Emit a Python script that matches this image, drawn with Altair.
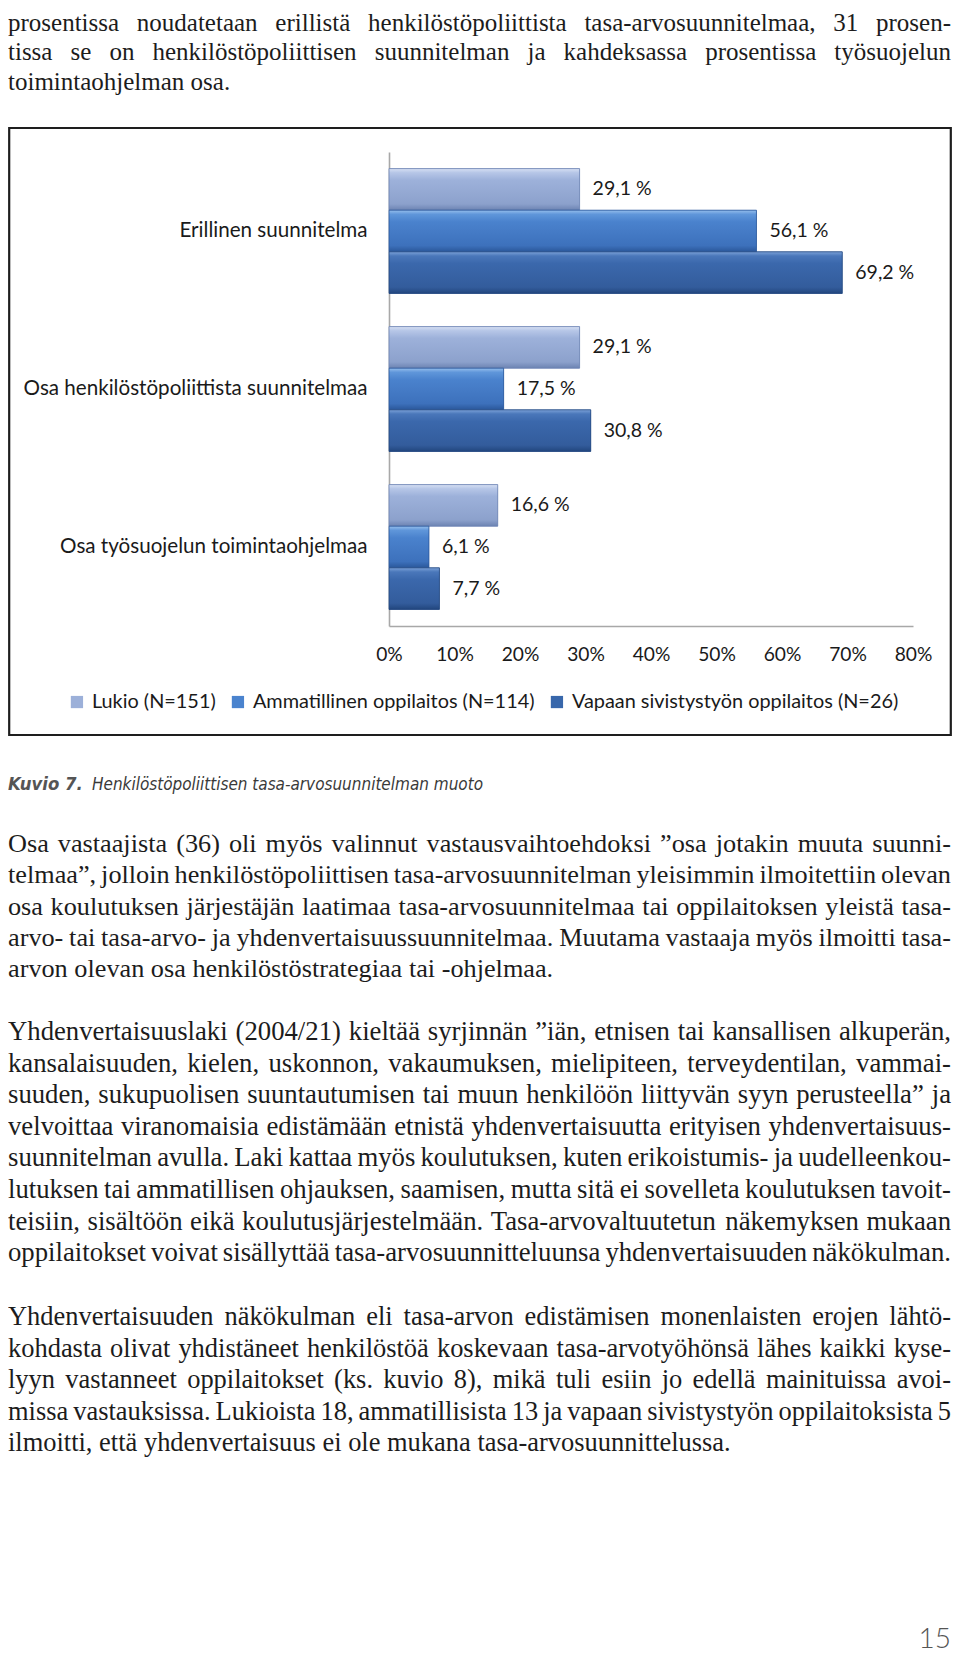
import glob
import struct
import pandas as pd
import altair as alt

# ---------------- data ----------------
categories = ["Erillinen suunnitelma",
              "Osa henkilöstöpoliittista suunnitelmaa",
              "Osa työsuojelun toimintaohjelmaa"]
series = ["Lukio (N=151)",
          "Ammatillinen oppilaitos (N=114)",
          "Vapaan sivistystyön oppilaitos (N=26)"]
lukio_values = [29.1, 29.1, 16.6]
ammatillinen_values = [56.1, 17.5, 6.1]
vapaan_values = [69.2, 30.8, 7.7]
x_tick_values = [0, 10, 20, 30, 40, 50, 60, 70, 80]

top_lines = [
    "prosentissa noudatetaan erillistä henkilöstöpoliittista tasa-arvosuunnitelmaa, 31 prosen-",
    "tissa se on henkilöstöpoliittisen suunnitelman ja kahdeksassa prosentissa työsuojelun",
    "toimintaohjelman osa.",
]
para1_lines = [
    "Osa vastaajista (36) oli myös valinnut vastausvaihtoehdoksi ”osa jotakin muuta suunni-",
    "telmaa”, jolloin henkilöstöpoliittisen tasa-arvosuunnitelman yleisimmin ilmoitettiin olevan",
    "osa koulutuksen järjestäjän laatimaa tasa-arvosuunnitelmaa tai oppilaitoksen yleistä tasa-",
    "arvo- tai tasa-arvo- ja yhdenvertaisuussuunnitelmaa. Muutama vastaaja myös ilmoitti tasa-",
    "arvon olevan osa henkilöstöstrategiaa tai -ohjelmaa.",
]
para2_lines = [
    "Yhdenvertaisuuslaki (2004/21) kieltää syrjinnän ”iän, etnisen tai kansallisen alkuperän,",
    "kansalaisuuden, kielen, uskonnon, vakaumuksen, mielipiteen, terveydentilan, vammai-",
    "suuden, sukupuolisen suuntautumisen tai muun henkilöön liittyvän syyn perusteella” ja",
    "velvoittaa viranomaisia edistämään etnistä yhdenvertaisuutta erityisen yhdenvertaisuus-",
    "suunnitelman avulla. Laki kattaa myös koulutuksen, kuten erikoistumis- ja uudelleenkou-",
    "lutuksen tai ammatillisen ohjauksen, saamisen, mutta sitä ei sovelleta koulutuksen tavoit-",
    "teisiin, sisältöön eikä koulutusjärjestelmään. Tasa-arvovaltuutetun näkemyksen mukaan",
    "oppilaitokset voivat sisällyttää tasa-arvosuunnitteluunsa yhdenvertaisuuden näkökulman.",
]
para3_lines = [
    "Yhdenvertaisuuden näkökulman eli tasa-arvon edistämisen monenlaisten erojen lähtö-",
    "kohdasta olivat yhdistäneet henkilöstöä koskevaan tasa-arvotyöhönsä lähes kaikki kyse-",
    "lyyn vastanneet oppilaitokset (ks. kuvio 8), mikä tuli esiin jo edellä mainituissa avoi-",
    "missa vastauksissa. Lukioista 18, ammatillisista 13 ja vapaan sivistystyön oppilaitoksista 5",
    "ilmoitti, että yhdenvertaisuus ei ole mukana tasa-arvosuunnittelussa.",
]
caption_bold = "Kuvio 7."
caption_text = "Henkilöstöpoliittisen tasa-arvosuunnitelman muoto"
page_number = "15"


# ---------------- font metrics (for justified text) ----------------
def make_measurer(path):
    data = open(path, "rb").read()
    base = 0
    if data[:4] == b"ttcf":
        base = struct.unpack(">I", data[12:16])[0]
    num_tables = struct.unpack(">H", data[base + 4:base + 6])[0]
    tables = {}
    for i in range(num_tables):
        off = base + 12 + 16 * i
        tag = data[off:off + 4].decode("latin1")
        toff, tlen = struct.unpack(">II", data[off + 8:off + 16])
        tables[tag] = toff
    head = tables["head"]
    upem = struct.unpack(">H", data[head + 18:head + 20])[0]
    hhea = tables["hhea"]
    num_h = struct.unpack(">H", data[hhea + 34:hhea + 36])[0]
    hmtx = tables["hmtx"]
    adv = [struct.unpack(">H", data[hmtx + 4 * i:hmtx + 4 * i + 2])[0] for i in range(num_h)]
    cmap = tables["cmap"]
    nsub = struct.unpack(">H", data[cmap + 2:cmap + 4])[0]
    sub = None
    for i in range(nsub):
        pid, eid, soff = struct.unpack(">HHI", data[cmap + 4 + 8 * i:cmap + 12 + 8 * i])
        fmt = struct.unpack(">H", data[cmap + soff:cmap + soff + 2])[0]
        if fmt == 4 and (pid == 3 and eid == 1 or pid == 0):
            sub = cmap + soff
            break
    if sub is None:
        raise ValueError("no cmap")
    segx2 = struct.unpack(">H", data[sub + 6:sub + 8])[0]
    seg = segx2 // 2
    ends = struct.unpack(">%dH" % seg, data[sub + 14:sub + 14 + segx2])
    starts = struct.unpack(">%dH" % seg, data[sub + 16 + segx2:sub + 16 + 2 * segx2])
    deltas = struct.unpack(">%dh" % seg, data[sub + 16 + 2 * segx2:sub + 16 + 3 * segx2])
    ro_pos = sub + 16 + 3 * segx2
    roffs = struct.unpack(">%dH" % seg, data[ro_pos:ro_pos + segx2])
    cache = {}

    def glyph_adv(ch):
        if ch in cache:
            return cache[ch]
        c = ord(ch)
        g = 0
        for i in range(seg):
            if ends[i] >= c:
                if starts[i] <= c:
                    if roffs[i] == 0:
                        g = (c + deltas[i]) & 0xFFFF
                    else:
                        addr = ro_pos + 2 * i + roffs[i] + 2 * (c - starts[i])
                        g = struct.unpack(">H", data[addr:addr + 2])[0]
                        if g:
                            g = (g + deltas[i]) & 0xFFFF
                break
        a = adv[g] if g < num_h else adv[-1]
        cache[ch] = a / upem
        return cache[ch]

    def width(text, size):
        return sum(glyph_adv(ch) for ch in text) * size

    return width


def find_measurer(names):
    for n in names:
        paths = []
        for root in ["/usr/share/fonts", "/usr/local/share/fonts", "/root/.fonts"]:
            paths += sorted(glob.glob(root + "/**/" + n, recursive=True))
        for p in paths:
            try:
                return make_measurer(p)
            except Exception:
                pass
    return None


serif_w = find_measurer(["LiberationSerif-Regular.ttf"])
lato_w = find_measurer(["Lato-Regular.ttf"])

cap_family, cap_it_w = "Roboto", None
for fam, f_list in [("Liberation Sans Narrow", ["LiberationSansNarrow-Italic.ttf"]),
                    ("DejaVu Sans Condensed", ["DejaVuSansCondensed-Oblique.ttf"]),
                    ("Roboto", ["Roboto-Italic.ttf", "Roboto-Italic*.ttf", "Roboto*Italic*.ttf"])]:
    m1 = find_measurer(f_list)
    if m1 is not None:
        cap_family, cap_it_w = fam, m1
        break


def fit(measure, text, target, default, lo=12, hi=26):
    if measure is None:
        return default
    w1 = measure(text, 1.0)
    if w1 <= 0:
        return default
    return max(lo, min(hi, target / w1))


# ---------------- layout (chart coords = page coords - 8) ----------------
OX = 8
W, H = 944, 1648
X0, X80 = 389 - OX, 913 - OX
YT, YB = 152 - OX, 626 - OX

cat_size = fit(lato_w, categories[1], 345, 18.5)
leg_size = fit(lato_w, series[2], 337, 18.5) * 0.975
lab_size = fit(lato_w, "29,1 %", 59, 18.5)
tick_size = fit(lato_w, "80%", 37.7, 18.5)

# ---------------- prose ----------------
TEXT_L, TEXT_R = 0, W - 1


def para_rows(lines, first_base, step, cap):
    n = len(lines)
    bases = [first_base + i * step - OX for i in range(n)]
    rows = []
    if serif_w is None:
        for ln, y in zip(lines, bases):
            rows.append({"x": TEXT_L, "y": y, "word": ln, "fs": 23.0})
        return rows
    sp1 = serif_w(" ", 1.0)
    size = cap
    for ln in lines:
        words = ln.split(" ")
        nat = sum(serif_w(w, 1.0) for w in words) + 0.75 * sp1 * (len(words) - 1)
        size = min(size, (TEXT_R - TEXT_L) / nat)
    for idx, (ln, y) in enumerate(zip(lines, bases)):
        words = ln.split(" ")
        ww = [serif_w(w, size) for w in words]
        if len(words) == 1:
            gap = 0
        else:
            gap = (TEXT_R - TEXT_L - sum(ww)) / (len(words) - 1)
            if idx == n - 1:
                gap = min(gap, serif_w(" ", size))
        x = TEXT_L
        for w, wd in zip(words, ww):
            rows.append({"x": x, "y": y, "word": w, "fs": size})
            x += wd + gap
    return rows


prose = []
prose += para_rows(top_lines, 30.5, 29.8, 25)
prose += para_rows(para1_lines, 852, 31.3, 27)
prose += para_rows(para2_lines, 1040, 31.6, 27)
prose += para_rows(para3_lines, 1325, 31.5, 27)
prose_df = pd.DataFrame(prose)

cap_size = fit(cap_it_w, caption_text, 391, 20, lo=14, hi=26)
cap_df_b = pd.DataFrame([{"x": 0, "y": 790 - OX, "t": caption_bold}])
cap_df_i = pd.DataFrame([{"x": 92 - OX, "y": 790 - OX, "t": caption_text}])
pn_df = pd.DataFrame([{"x": W - 1, "y": H - 8, "t": page_number}])

# ---------------- bars ----------------
rows = []
for i, c in enumerate(categories):
    for s, vals in zip(series, [lukio_values, ammatillinen_values, vapaan_values]):
        v = vals[i]
        rows.append({"cat": c, "series": s, "value": v,
                     "label": ("%.1f" % v).replace(".", ",") + " %"})
bars_df = pd.DataFrame(rows)

flat_colors = ["#9CB0D9", "#4A83CE", "#3867AB"]
gradients = [
    [("#D6E0F3", 0.0), ("#B6C6E7", 0.1), ("#9DB1DA", 0.28), ("#8CA1CC", 0.85), ("#6C83B2", 1.0)],
    [("#95BEEC", 0.0), ("#5F96DA", 0.1), ("#4A82CD", 0.28), ("#3D71BC", 0.85), ("#2A579A", 1.0)],
    [("#7CA2D8", 0.0), ("#4A77BA", 0.1), ("#3B68AC", 0.28), ("#335C9C", 0.85), ("#22467E", 1.0)],
]
edge_colors = ["#6C83B2", "#2A579A", "#22467E"]

LABEL_FONT = "Lato"

x_enc = alt.X("value:Q",
              scale=alt.Scale(domain=[0, 80], range=[X0, X80], nice=False, zero=True),
              axis=alt.Axis(title=None, orient="bottom", offset=YB - H, values=x_tick_values,
                            labelExpr="datum.value + '%'", ticks=False, grid=False,
                            labelFlush=False, labelOverlap=False,
                            domainColor="#a8a8a8", domainWidth=1.6,
                            labelFont=LABEL_FONT, labelFontSize=tick_size, labelColor="#1a1a1a",
                            labelPadding=19))
y_enc = alt.Y("cat:N", sort=categories,
              scale=alt.Scale(domain=categories, range=[YT, YB], paddingInner=0.21, paddingOuter=0.105),
              axis=alt.Axis(title=None, orient="left", offset=-X0, ticks=False, grid=False,
                            domainColor="#a8a8a8", domainWidth=1.6,
                            labelFont=LABEL_FONT, labelFontSize=cat_size, labelColor="#1a1a1a",
                            labelPadding=22, labelLimit=600))
yo_enc = alt.YOffset("series:N", sort=series,
                     scale=alt.Scale(domain=series, paddingInner=0, paddingOuter=0))

base = alt.Chart(bars_df)

bars = base.mark_bar().encode(
    x=x_enc, y=y_enc, yOffset=yo_enc,
    color=alt.Color("series:N", sort=series,
                    scale=alt.Scale(domain=series, range=flat_colors),
                    legend=alt.Legend(title=None, orient="none", direction="horizontal",
                                      legendX=59, legendY=684, padding=0,
                                      symbolType="square", symbolSize=150, symbolStrokeWidth=0,
                                      labelFont=LABEL_FONT, labelFontSize=leg_size,
                                      labelColor="#1a1a1a", labelOffset=5, columnPadding=12,
                                      labelLimit=600)),
)

grad_layers = []
for s, g, ec in zip(series, gradients, edge_colors):
    grad = {"gradient": "linear", "x1": 0, "y1": 0, "x2": 0, "y2": 1,
            "stops": [{"offset": o, "color": c} for c, o in g]}
    grad_layers.append(
        base.transform_filter(alt.datum.series == s)
        .mark_bar(color=grad, stroke=ec, strokeWidth=0.8)
        .encode(x=x_enc, y=y_enc, yOffset=yo_enc)
    )

labels = base.mark_text(align="left", baseline="middle", dx=13, font=LABEL_FONT,
                        fontSize=lab_size, color="#1a1a1a").encode(
    x=x_enc, y=y_enc, yOffset=yo_enc, text="label:N")

box = alt.Chart(pd.DataFrame({"a": [0]})).mark_rect(
    fillOpacity=0, stroke="#1e1e1e", strokeWidth=2.2).encode(
    x=alt.value(1.2), x2=alt.value(W - 1.2), y=alt.value(128 - OX), y2=alt.value(735 - OX))

prose_layer = alt.Chart(prose_df).mark_text(
    align="left", baseline="alphabetic", font="Liberation Serif", color="#1c1c1c").encode(
    x=alt.X("x:Q", scale=None, axis=None),
    y=alt.Y("y:Q", scale=None, axis=None),
    size=alt.Size("fs:Q", scale=None, legend=None),
    text="word:N")

cap_b = alt.Chart(cap_df_b).mark_text(
    align="left", baseline="alphabetic", font=cap_family, fontStyle="italic", fontWeight="bold",
    fontSize=cap_size * 1.08, color="#555555").encode(
    x=alt.X("x:Q", scale=None, axis=None), y=alt.Y("y:Q", scale=None, axis=None), text="t:N")
cap_i = alt.Chart(cap_df_i).mark_text(
    align="left", baseline="alphabetic", font=cap_family, fontStyle="italic",
    fontSize=cap_size, color="#3a3a3a").encode(
    x=alt.X("x:Q", scale=None, axis=None), y=alt.Y("y:Q", scale=None, axis=None), text="t:N")
pn = alt.Chart(pn_df).mark_text(
    align="right", baseline="alphabetic", font="Lato", fontWeight=300,
    fontSize=28, color="#555555").encode(
    x=alt.X("x:Q", scale=None, axis=None), y=alt.Y("y:Q", scale=None, axis=None), text="t:N")

chart = alt.layer(box, bars, *grad_layers, labels, prose_layer, cap_b, cap_i, pn).properties(
    width=W, height=H, padding=0, autosize=alt.AutoSizeParams(type="none"),
    background="white",
).configure_view(stroke=None)

chart.save("out.html", embed_options={"renderer": "svg", "actions": False})
